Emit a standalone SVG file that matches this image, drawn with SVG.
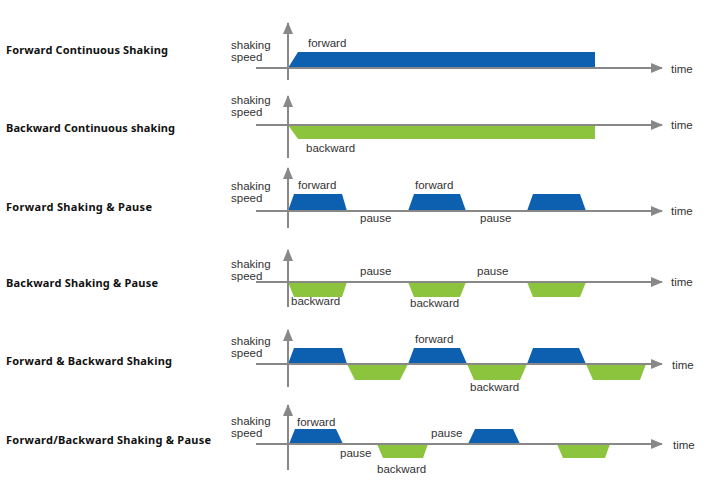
<svg xmlns="http://www.w3.org/2000/svg" width="715" height="494" viewBox="0 0 715 494">
<style>
.title{font-family:"Noto Sans","Liberation Sans",sans-serif;font-weight:bold;font-size:11px;fill:#111}
.lbl{font-family:"Liberation Sans",Arial,sans-serif;font-size:11.5px;fill:#333}
.fw{fill:#0d5fb0}
.bw{fill:#8cc43e}
.ax{stroke:#888;stroke-width:2;fill:none}
</style>
<defs>
<marker id="ah" viewBox="0 0 12 10" refX="11" refY="5" markerWidth="12" markerHeight="10" markerUnits="userSpaceOnUse" orient="auto">
<path d="M0,0 L12,5 L0,10 Z" fill="#888"/>
</marker>
</defs>
<rect width="715" height="494" fill="#fff"/>

<g id="titles">
<text class="title" x="6" y="54" textLength="162" lengthAdjust="spacing">Forward Continuous Shaking</text>
<text class="title" x="6" y="132" textLength="169" lengthAdjust="spacing">Backward Continuous  shaking</text>
<text class="title" x="6" y="211" textLength="146" lengthAdjust="spacing">Forward Shaking &amp; Pause</text>
<text class="title" x="6" y="287" textLength="152" lengthAdjust="spacing">Backward Shaking &amp; Pause</text>
<text class="title" x="6" y="365" textLength="166" lengthAdjust="spacing">Forward &amp; Backward Shaking</text>
<text class="title" x="6" y="444" textLength="205" lengthAdjust="spacing">Forward/Backward Shaking &amp; Pause</text>
</g>

<g id="panel1">
<polygon class="fw" points="288,68 298,52 595,52 595,68"/>
<text class="lbl" x="231" y="49">shaking</text>
<text class="lbl" x="231" y="61">speed</text>
<text class="lbl" x="308" y="47">forward</text>
<text class="lbl" x="671" y="73">time</text>
</g>

<g id="panel2">
<polygon class="bw" points="288,125 298,139 595,139 595,125"/>
<text class="lbl" x="231" y="104">shaking</text>
<text class="lbl" x="231" y="116">speed</text>
<text class="lbl" x="306" y="152">backward</text>
<text class="lbl" x="671" y="129">time</text>
</g>

<g id="panel3">
<polygon class="fw" points="288,211 294,194 342,194 347,211"/>
<polygon class="fw" points="408,211 414,194 460,194 466,211"/>
<polygon class="fw" points="527,211 533,194 580,194 586,211"/>
<text class="lbl" x="231" y="190">shaking</text>
<text class="lbl" x="231" y="202">speed</text>
<text class="lbl" x="298" y="189">forward</text>
<text class="lbl" x="415" y="189">forward</text>
<text class="lbl" x="360" y="222">pause</text>
<text class="lbl" x="480" y="222">pause</text>
<text class="lbl" x="671" y="215">time</text>
</g>

<g id="panel4">
<polygon class="bw" points="288,282 294,297 342,297 347,282"/>
<polygon class="bw" points="408,282 414,297 460,297 466,282"/>
<polygon class="bw" points="527,282 533,297 580,297 586,282"/>
<text class="lbl" x="231" y="268">shaking</text>
<text class="lbl" x="231" y="280">speed</text>
<text class="lbl" x="360" y="275">pause</text>
<text class="lbl" x="477" y="275">pause</text>
<text class="lbl" x="291" y="305">backward</text>
<text class="lbl" x="410" y="307">backward</text>
<text class="lbl" x="671" y="286">time</text>
</g>

<g id="panel5">
<polygon class="fw" points="288,364 294,348 342,348 347,364"/>
<polygon class="bw" points="347,364 355,380 400,380 408,364"/>
<polygon class="fw" points="408,364 414,348 460,348 467,364"/>
<polygon class="bw" points="467,364 474,380 520,380 527,364"/>
<polygon class="fw" points="527,364 533,348 579,348 586,364"/>
<polygon class="bw" points="586,364 593,380 640,380 646,364"/>
<text class="lbl" x="231" y="345">shaking</text>
<text class="lbl" x="231" y="357">speed</text>
<text class="lbl" x="415" y="343">forward</text>
<text class="lbl" x="470" y="391">backward</text>
<text class="lbl" x="672" y="369">time</text>
</g>

<g id="panel6">
<polygon class="fw" points="289,444 295,429 336,429 343,444"/>
<polygon class="bw" points="377,444 383,458 423,458 428,444"/>
<polygon class="fw" points="468,444 475,429 513,429 520,444"/>
<polygon class="bw" points="557,444 563,458 605,458 610,444"/>
<text class="lbl" x="231" y="425">shaking</text>
<text class="lbl" x="231" y="437">speed</text>
<text class="lbl" x="297" y="426">forward</text>
<text class="lbl" x="340" y="457">pause</text>
<text class="lbl" x="377" y="473">backward</text>
<text class="lbl" x="431" y="437">pause</text>
<text class="lbl" x="673" y="449">time</text>
</g>

<g id="axes">
<line class="ax" x1="256" y1="68" x2="662" y2="68" marker-end="url(#ah)"/>
<line class="ax" x1="288" y1="80" x2="288" y2="23" marker-end="url(#ah)"/>
<line class="ax" x1="256" y1="125" x2="662" y2="125" marker-end="url(#ah)"/>
<line class="ax" x1="288" y1="158" x2="288" y2="96" marker-end="url(#ah)"/>
<line class="ax" x1="256" y1="211" x2="662" y2="211" marker-end="url(#ah)"/>
<line class="ax" x1="288" y1="228" x2="288" y2="168" marker-end="url(#ah)"/>
<line class="ax" x1="256" y1="282" x2="662" y2="282" marker-end="url(#ah)"/>
<line class="ax" x1="288" y1="307" x2="288" y2="250" marker-end="url(#ah)"/>
<line class="ax" x1="256" y1="364" x2="662" y2="364" marker-end="url(#ah)"/>
<line class="ax" x1="288" y1="387" x2="288" y2="330" marker-end="url(#ah)"/>
<line class="ax" x1="256" y1="444" x2="662" y2="444" marker-end="url(#ah)"/>
<line class="ax" x1="288" y1="470" x2="288" y2="405" marker-end="url(#ah)"/>
</g>
</svg>
